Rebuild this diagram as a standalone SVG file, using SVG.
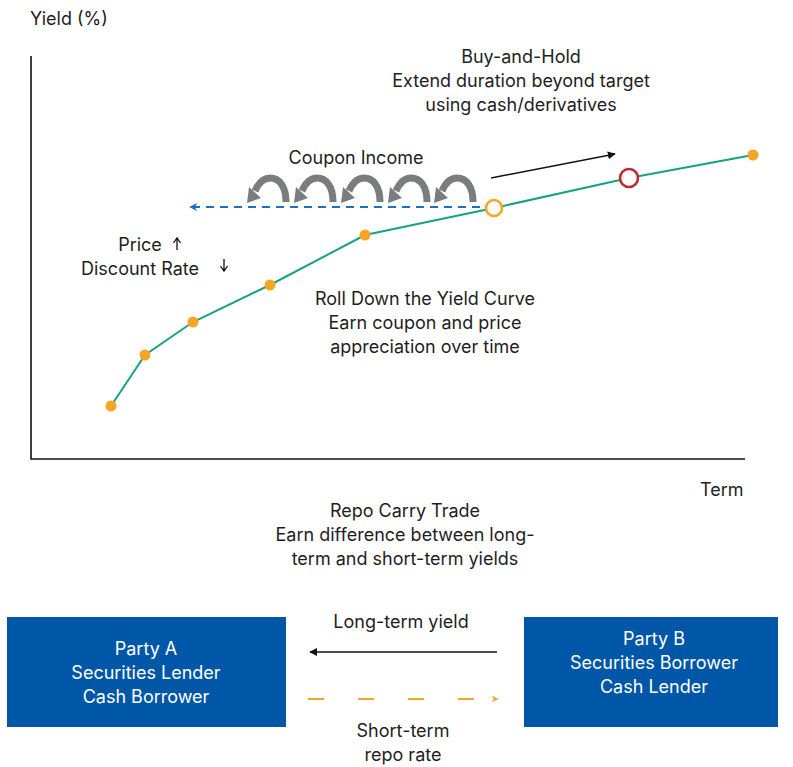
<svg xmlns="http://www.w3.org/2000/svg" width="793" height="767" viewBox="0 0 793 767">
<style>
text{font-family:"Inter","Roboto","Liberation Sans",sans-serif;font-size:18px;fill:#1e1e1e}
.c{text-anchor:middle}
.w{fill:#ffffff}
.axis{stroke:#111;stroke-width:1.6;fill:none}
.curve{stroke:#15a47c;stroke-width:2;fill:none}
.dot{fill:#f5a623}
.box{fill:#0057a8}
</style>
<defs>
<marker id="ab" viewBox="0 0 10 10" refX="9" refY="5" markerWidth="8" markerHeight="8" orient="auto-start-reverse" markerUnits="userSpaceOnUse"><path d="M0,0 L10,5 L0,10 z" fill="#111"/></marker>
<marker id="abl" viewBox="0 0 10 10" refX="9" refY="5" markerWidth="8" markerHeight="8" orient="auto-start-reverse" markerUnits="userSpaceOnUse"><path d="M0,0 L10,5 L0,10 L3,5 z" fill="#1f6fc0"/></marker>
<marker id="aor" viewBox="0 0 10 10" refX="9" refY="5" markerWidth="7" markerHeight="7" orient="auto" markerUnits="userSpaceOnUse"><path d="M0,0 L10,5 L0,10 L3,5 z" fill="#f5a623"/></marker>
<g id="carc">
<path d="M39,-1 C39,-17 32,-25 23,-25 C15,-25 11,-19 8,-12" stroke="#7b7c80" stroke-width="7" fill="none"/>
<polygon points="0,0 14,-5 2,-16" fill="#7b7c80"/>
</g>
</defs>

<g id="axes">
<polyline class="axis" points="31,56 31,459 745,459"/>
<text x="30" y="25">Yield (%)</text>
<text x="700" y="496">Term</text>
</g>

<g id="connectors">
<line x1="494" y1="207" x2="190" y2="207" stroke="#1f6fc0" stroke-width="2" stroke-dasharray="8,6" marker-end="url(#abl)"/>
<line x1="491" y1="178" x2="615" y2="154" stroke="#111" stroke-width="1.5" marker-end="url(#ab)"/>
<line x1="497" y1="652" x2="310" y2="652" stroke="#111" stroke-width="1.5" marker-end="url(#ab)"/>
<line x1="308" y1="699" x2="498" y2="699" stroke="#f5a623" stroke-width="2" stroke-dasharray="16,34" marker-end="url(#aor)"/>
</g>

<g id="coupon-arrows">
<use href="#carc" transform="translate(247,203)"/>
<use href="#carc" transform="translate(294,203)"/>
<use href="#carc" transform="translate(341,203)"/>
<use href="#carc" transform="translate(388,203)"/>
<use href="#carc" transform="translate(434,203)"/>
</g>

<g id="yield-curve">
<polyline class="curve" points="111,406 145,355 193,322 270,285 365,235 494,208 629,178 753,155"/>
<circle class="dot" cx="111" cy="406" r="5.5"/>
<circle class="dot" cx="145" cy="355" r="5.5"/>
<circle class="dot" cx="193" cy="322" r="5.5"/>
<circle class="dot" cx="270" cy="285" r="5.5"/>
<circle class="dot" cx="365" cy="235" r="5.5"/>
<circle class="dot" cx="753" cy="155" r="5.5"/>
<circle cx="494" cy="208" r="8" fill="#fff" stroke="#f5a623" stroke-width="2.6"/>
<circle cx="629" cy="178" r="9" fill="#fff" stroke="#c0282d" stroke-width="2.6"/>
</g>

<g id="labels">
<text class="c" x="356" y="164">Coupon Income</text>
<text class="c" x="521" y="63">Buy-and-Hold</text>
<text class="c" x="521" y="87">Extend duration beyond target</text>
<text class="c" x="521" y="111">using cash/derivatives</text>
<text class="c" x="140" y="251">Price</text>
<text class="c" x="140" y="275">Discount Rate</text>
<path d="M177,250 V239 M173.5,243 L177,238 L180.5,243" stroke="#111" stroke-width="1.3" fill="none"/>
<path d="M224,259 V270 M220.5,266 L224,271 L227.5,266" stroke="#111" stroke-width="1.3" fill="none"/>
<text class="c" x="425" y="305">Roll Down the Yield Curve</text>
<text class="c" x="425" y="329">Earn coupon and price</text>
<text class="c" x="425" y="353">appreciation over time</text>
<text class="c" x="405" y="517">Repo Carry Trade</text>
<text class="c" x="405" y="541">Earn difference between long-</text>
<text class="c" x="405" y="565">term and short-term yields</text>
<text class="c" x="401" y="628">Long-term yield</text>
<text class="c" x="403" y="737">Short-term</text>
<text class="c" x="403" y="761">repo rate</text>
</g>

<g id="party-a">
<rect class="box" x="7" y="617" width="279" height="110"/>
<text class="c w" x="146" y="655">Party A</text>
<text class="c w" x="146" y="679">Securities Lender</text>
<text class="c w" x="146" y="703">Cash Borrower</text>
</g>

<g id="party-b">
<rect class="box" x="524" y="617" width="254" height="110"/>
<text class="c w" x="654" y="645">Party B</text>
<text class="c w" x="654" y="669">Securities Borrower</text>
<text class="c w" x="654" y="693">Cash Lender</text>
</g>
</svg>
